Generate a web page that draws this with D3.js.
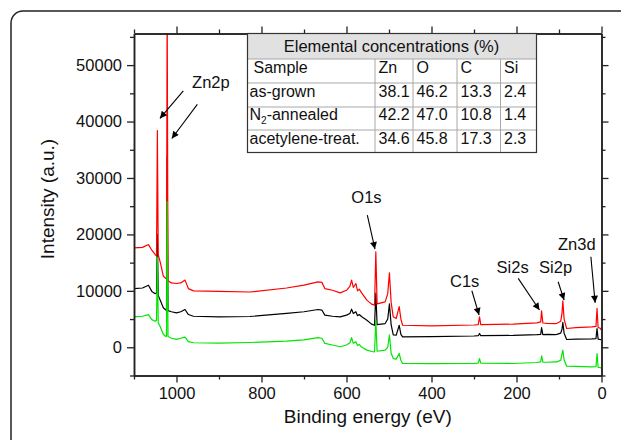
<!DOCTYPE html>
<html>
<head>
<meta charset="utf-8">
<script src="https://cdn.jsdelivr.net/npm/d3@7"></script>
<style>
  body { margin: 0; background: #fff; }
  svg text { font-family: "Liberation Sans", Arial, sans-serif; fill: #111; }
</style>
</head>
<body>
<div id="xps"></div>
<script>
    var width = 621;
    var height = 440;

    // binding energies (eV), shared by the three spectra
    var energy = [1100, 1080, 1066, 1058, 1050, 1047, 1045, 1043, 1038, 1031, 1025, 1023.5, 1022, 1020,
      1012, 1000, 990, 980, 972, 960, 900, 827, 741, 700, 667, 658, 651, 633, 615, 600, 592, 588,
      584, 578, 574, 570, 564, 552, 541, 534, 531, 528, 509, 503, 499, 495, 490, 483, 476, 472, 468,
      400, 300, 290, 287, 284, 208, 152, 143, 141, 138, 128, 110, 105, 96, 93, 91, 88, 82, 60, 23,
      13, 10.5, 8, 3.5, 0];

    var redSpectrum = [17600, 17700, 18200, 17200, 16400, 16200, 38400, 16400, 15000, 12600, 12200, 12300, 62000, 11800,
      11400, 11300, 11400, 11900, 10400, 10000, 9900, 9800, 10500, 11000, 11600, 11500, 10400, 10100, 9650, 10100, 10800, 11900,
      10600, 11300, 10000, 10300, 9600, 8350, 7640, 7460, 16900, 7700, 8050, 9500, 13200, 8000, 5400, 5100, 7200, 5000, 3900,
      3800, 3950, 4000, 5400, 4000, 4100, 4330, 4500, 6450, 4300, 4220, 4200, 4250, 4600, 6000, 8230, 5000, 3330, 3500, 3620,
      3700, 6880, 3500, 3400, 3030];

    var blackSpectrum = [10400, 10500, 11000, 9900, 9500, 9600, 20000, 9200, 8300, 7000, 6600, 6700, 33800, 6500,
      6300, 6100, 6300, 6700, 5800, 5500, 5400, 5450, 6000, 6300, 6700, 6600, 5700, 5500, 5400, 5700, 6000, 6760,
      6000, 6300, 5600, 5800, 5400, 4800, 4100, 3900, 9600, 4000, 4200, 5000, 7700, 4000, 2200, 2150, 3900, 2300, 1850,
      1900, 2000, 2050, 2450, 2050, 2100, 2250, 2300, 3500, 2250, 2270, 2250, 2300, 2500, 3200, 4400, 2500, 1380, 1450, 1500,
      1550, 3330, 1450, 1380, 1300];

    var greenSpectrum = [5400, 5500, 5800, 4900, 4600, 4800, 16000, 4400, 3600, 2300, 1900, 2000, 25800, 1900,
      1600, 1400, 1600, 1800, 1000, 800, 750, 850, 1100, 1300, 1700, 1600, 700, 400, 100, 400, 800, 1700,
      700, 1000, 300, 500, 0, -500, -750, -800, 4800, -700, -510, 0, 2200, -1000, -2000, -2100, -1100, -2300, -2870,
      -2880, -2850, -2800, -2000, -2800, -2870, -2700, -2600, -1500, -2650, -2650, -2600, -2580, -2300, -1200, -510, -2200, -3350, -3400, -3470,
      -3450, -1100, -3550, -3580, -3700];

    var xMajorTicks = [1000, 800, 600, 400, 200, 0];
    var xMinorTicks = [1100, 900, 700, 500, 300, 100];
    var yMajorTicks = [0, 10000, 20000, 30000, 40000, 50000];
    var yMinorTicks = [-5000, 5000, 15000, 25000, 35000, 45000, 55000];

    // peak annotations: label at [energy, intensity], arrows from -> to
    var peakLabels = [
      {text: "Zn2p", at: [919, 45900]},
      {text: "O1s", at: [553, 25550]},
      {text: "C1s", at: [322, 10720]},
      {text: "Si2s", at: [209, 13100]},
      {text: "Si2p", at: [108, 13150]},
      {text: "Zn3d", at: [58, 17220]}
    ];
    var peakArrows = [
      [[984, 45430], [1039, 40550]],
      [[951, 43030], [1011, 37000]],
      [[551, 23420], [533, 17400]],
      [[305, 10020], [288, 5710]],
      [[196, 12210], [146, 6600]],
      [[102, 11610], [88, 8370]],
      [[25, 16040], [15, 7890]]
    ];

    var tableTitle = "Elemental concentrations (%)";
    var tableHeader = ["Sample", "Zn", "O", "C", "Si"];
    var tableSamples = ["as-grown", "N2-annealed", "acetylene-treat."];
    var tableValues = [
      ["38.1", "46.2", "13.3", "2.4"],
      ["42.2", "47.0", "10.8", "1.4"],
      ["34.6", "45.8", "17.3", "2.3"]
    ];

    var svg = d3.select("#xps")
          .append("svg")
          .attr("width", width)
          .attr("height", height);

    // rounded frame, open to the right and bottom
    svg.append("rect")
       .attr("x", 11).attr("y", 11)
       .attr("width", 700).attr("height", 600)
       .attr("rx", 12)
       .attr("fill", "none")
       .attr("stroke", "#222")
       .attr("stroke-width", 1.5);

    var plotLeft = 134, plotRight = 601.5, plotTop = 33.5, plotBottom = 375.5;

    var x = d3.scaleLinear().domain([1100, 0]).range([plotLeft, plotRight]);
    var y = d3.scaleLinear().domain([-5000, 55600]).range([plotBottom, plotTop]);

    svg.append("clipPath").attr("id", "plotClip")
       .append("rect")
       .attr("x", plotLeft).attr("y", plotTop)
       .attr("width", plotRight - plotLeft).attr("height", plotBottom - plotTop);

    var line = d3.line()
      .x(function(d){ return x(d[0]); })
      .y(function(d){ return y(d[1]); });

    var series = [
      {values: blackSpectrum, color: "#000000"},
      {values: redSpectrum, color: "#ff0000"},
      {values: greenSpectrum, color: "#00e600"}
    ];

    var spectra_g = svg.append("g").attr("clip-path", "url(#plotClip)");

    spectra_g.selectAll("path")
      .data(series)
      .enter()
      .append("path")
      .attr("d", function(s){
        return line(energy.map(function(e, i){ return [e, s.values[i]]; }));
      })
      .attr("fill", "none")
      .attr("stroke", function(s){ return s.color; })
      .attr("stroke-width", 1.2)
      .attr("stroke-linejoin", "round");

    function styleAxis(g){
      g.select(".domain").attr("stroke", "#222").attr("stroke-width", 1.5);
      g.selectAll(".tick line").attr("stroke", "#222").attr("stroke-width", 1.3);
      g.selectAll("text")
        .attr("font-family", "Liberation Sans, Arial, sans-serif")
        .attr("font-size", 16.5)
        .attr("fill", "#111");
    }

    var majorLen = 7, minorLen = 4;
    var fmt = d3.format("d");

    // bottom
    svg.append("g").attr("transform", "translate(0," + plotBottom + ")")
      .call(d3.axisBottom(x).tickValues(xMinorTicks).tickSize(minorLen).tickFormat("").tickSizeOuter(0))
      .call(styleAxis);
    svg.append("g").attr("transform", "translate(0," + plotBottom + ")")
      .call(d3.axisBottom(x).tickValues(xMajorTicks).tickSize(majorLen).tickPadding(5).tickFormat(fmt).tickSizeOuter(0))
      .call(styleAxis);
    // top
    svg.append("g").attr("transform", "translate(0," + plotTop + ")")
      .call(d3.axisTop(x).tickValues(xMinorTicks).tickSize(minorLen).tickFormat("").tickSizeOuter(0))
      .call(styleAxis);
    svg.append("g").attr("transform", "translate(0," + plotTop + ")")
      .call(d3.axisTop(x).tickValues(xMajorTicks).tickSize(majorLen).tickFormat("").tickSizeOuter(0))
      .call(styleAxis);
    // left
    svg.append("g").attr("transform", "translate(" + plotLeft + ",0)")
      .call(d3.axisLeft(y).tickValues(yMinorTicks).tickSize(minorLen).tickFormat("").tickSizeOuter(0))
      .call(styleAxis);
    svg.append("g").attr("transform", "translate(" + plotLeft + ",0)")
      .call(d3.axisLeft(y).tickValues(yMajorTicks).tickSize(majorLen).tickPadding(5).tickFormat(fmt).tickSizeOuter(0))
      .call(styleAxis);
    // right
    svg.append("g").attr("transform", "translate(" + plotRight + ",0)")
      .call(d3.axisRight(y).tickValues(yMinorTicks).tickSize(minorLen).tickFormat("").tickSizeOuter(0))
      .call(styleAxis);
    svg.append("g").attr("transform", "translate(" + plotRight + ",0)")
      .call(d3.axisRight(y).tickValues(yMajorTicks).tickSize(majorLen).tickFormat("").tickSizeOuter(0))
      .call(styleAxis);

    // axis titles
    svg.append("text")
       .attr("x", (plotLeft + plotRight) / 2)
       .attr("y", 423)
       .attr("text-anchor", "middle")
       .attr("font-size", 19)
       .text("Binding energy (eV)");

    svg.append("text")
       .attr("transform", "translate(54," + 199 + ") rotate(-90)")
       .attr("text-anchor", "middle")
       .attr("font-size", 19)
       .text("Intensity (a.u.)");

    // arrows
    svg.append("defs").append("marker")
       .attr("id", "head")
       .attr("viewBox", "0 0 10 10")
       .attr("refX", 10).attr("refY", 5)
       .attr("markerUnits", "userSpaceOnUse")
       .attr("markerWidth", 9).attr("markerHeight", 7)
       .attr("orient", "auto")
       .append("path")
       .attr("d", "M0,0 L10,5 L0,10 Z")
       .attr("fill", "#000");

    svg.append("g").selectAll("line")
      .data(peakArrows)
      .enter()
      .append("line")
      .attr("x1", function(d){ return x(d[0][0]); })
      .attr("y1", function(d){ return y(d[0][1]); })
      .attr("x2", function(d){ return x(d[1][0]); })
      .attr("y2", function(d){ return y(d[1][1]); })
      .attr("stroke", "#000")
      .attr("stroke-width", 1.1)
      .attr("marker-end", "url(#head)");

    svg.append("g").selectAll("text")
      .data(peakLabels)
      .enter()
      .append("text")
      .attr("x", function(d){ return x(d.at[0]); })
      .attr("y", function(d){ return y(d.at[1]); })
      .attr("text-anchor", "middle")
      .attr("font-size", 16.5)
      .text(function(d){ return d.text; });

    // concentration table
    var tLeft = 247.5, tRight = 536.5;
    var colX = [tLeft, 375, 413, 457, 500.5, tRight];
    var rowY = [plotTop, 59, 83, 107, 130, 152.5];

    var table_g = svg.append("g");

    table_g.append("rect")
       .attr("x", tLeft).attr("y", rowY[0])
       .attr("width", tRight - tLeft).attr("height", rowY[1] - rowY[0])
       .attr("fill", "#e1e1e1");

    table_g.append("rect")
       .attr("x", tLeft).attr("y", rowY[1])
       .attr("width", tRight - tLeft).attr("height", rowY[5] - rowY[1])
       .attr("fill", "#fff");

    // inner grid
    rowY.slice(1, 5).forEach(function(ry){
      table_g.append("line")
        .attr("x1", tLeft).attr("x2", tRight)
        .attr("y1", ry).attr("y2", ry)
        .attr("stroke", "#a8a8a8").attr("stroke-width", 1);
    });
    colX.slice(1, 5).forEach(function(cx){
      table_g.append("line")
        .attr("x1", cx).attr("x2", cx)
        .attr("y1", rowY[1]).attr("y2", rowY[5])
        .attr("stroke", "#a8a8a8").attr("stroke-width", 1);
    });

    table_g.append("rect")
       .attr("x", tLeft).attr("y", rowY[0])
       .attr("width", tRight - tLeft).attr("height", rowY[5] - rowY[0])
       .attr("fill", "none")
       .attr("stroke", "#333").attr("stroke-width", 1.2);

    table_g.append("text")
       .attr("x", (tLeft + tRight) / 2 - 0.5)
       .attr("y", 52)
       .attr("text-anchor", "middle")
       .attr("font-size", 16.5)
       .text(tableTitle);

    table_g.selectAll("text.head")
      .data(tableHeader)
      .enter()
      .append("text")
      .attr("class", "head")
      .attr("x", function(d, i){ return i === 0 ? 253.5 : colX[i] + 3.5; })
      .attr("y", 73)
      .attr("font-size", 16)
      .text(function(d){ return d; });

    var rowBase = [96.5, 120, 143.5];

    tableSamples.forEach(function(name, r){
      var t = table_g.append("text")
        .attr("x", 249.5)
        .attr("y", rowBase[r])
        .attr("font-size", 16);
      if (name.indexOf("N2") === 0) {
        t.append("tspan").text("N");
        t.append("tspan").attr("dy", 4).attr("font-size", 10).text("2");
        t.append("tspan").attr("dy", -4).text(name.slice(2));
      } else {
        t.text(name);
      }
      tableValues[r].forEach(function(v, c){
        table_g.append("text")
          .attr("x", colX[c + 1] + 3.5)
          .attr("y", rowBase[r])
          .attr("font-size", 16)
          .text(v);
      });
    });
</script>
</body>
</html>
